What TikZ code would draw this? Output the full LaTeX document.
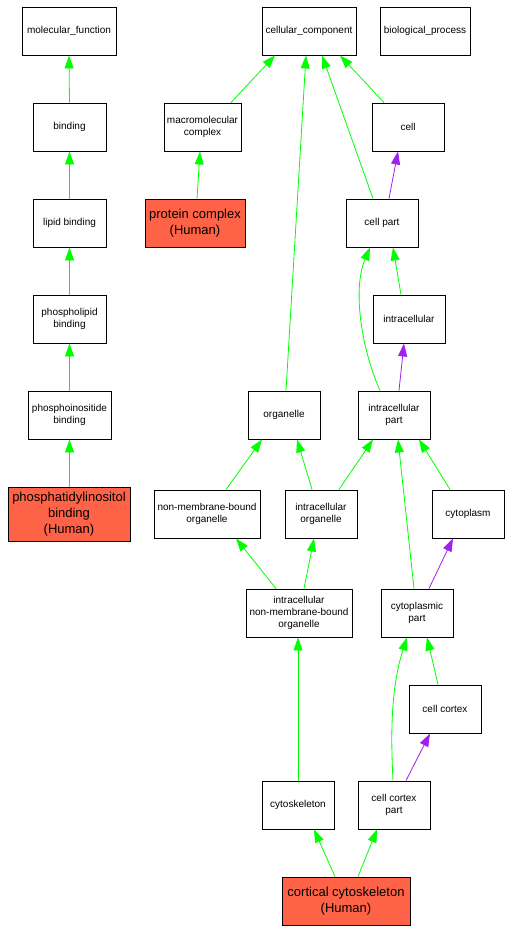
\documentclass[tikz,border=0pt]{standalone}
\usepackage{fontspec}
\setmainfont{Liberation Sans}
\usetikzlibrary{arrows.meta}
\definecolor{gr}{RGB}{0,255,0}
\definecolor{pu}{RGB}{160,32,240}
\definecolor{tom}{RGB}{255,99,71}
\begin{document}
\begin{tikzpicture}[x=1pt,y=-1pt,
  box/.style={draw=black,line width=0.9pt,rectangle,inner sep=0pt,align=center,
    minimum width=72pt,minimum height=48pt,font=\fontsize{10}{12}\selectfont},
  hum/.style={box,fill=tom,font=\fontsize{13}{16}\selectfont},
  ge/.style={draw=gr,line width=0.8pt,-{Triangle[width=9pt,length=13pt]}},
  pe/.style={draw=pu,line width=0.8pt,-{Triangle[width=9pt,length=13pt]}}]
\useasboundingbox (0,0) rectangle (511,932);
\fill[white] (0,0) rectangle (511,932);
% left branch
\node[box,minimum width=94pt] (mf) at (69,31) {molecular\_function};
\node[box,minimum width=73pt] (bind) at (69.5,127) {binding};
\node[box,minimum width=73pt] (lip) at (69.5,223) {lipid binding};
\node[box,minimum width=73pt] (phl) at (69.5,319) {phospholipid\\binding};
\node[box,minimum width=83pt] (phi) at (69.5,415) {phosphoinositide\\binding};
\node[hum,minimum width=122pt,minimum height=54pt] (pti) at (69,514) {phosphatidylinositol\\binding\\(Human)};
% middle/right
\node[box,minimum width=77pt] (mac) at (202.5,127) {macromolecular\\complex};
\node[hum,minimum width=100pt] (pc) at (195,223) {protein complex\\(Human)};
\node[box,minimum width=94pt] (cc) at (309,31) {cellular\_component};
\node[box,minimum width=90pt] (bp) at (425,31) {biological\_process};
\node[box] (cell) at (408,127) {cell};
\node[box] (cp) at (382,223) {cell part};
\node[box] (ic) at (409,319) {intracellular};
\node[box] (org) at (284,415) {organelle};
\node[box] (icp) at (394,415) {intracellular\\part};
\node[box,minimum width=106pt] (nmb) at (207,514) {non-membrane-bound\\organelle};
\node[box] (io) at (321,514) {intracellular\\organelle};
\node[box] (cyt) at (468,514) {cytoplasm};
\node[box,minimum width=106pt] (inmb) at (299,613) {intracellular\\non-membrane-bound\\organelle};
\node[box] (cyp) at (417,613) {cytoplasmic\\part};
\node[box] (cco) at (445,709) {cell cortex};
\node[box] (csk) at (298,805) {cytoskeleton};
\node[box] (ccp) at (394,805) {cell cortex\\part};
\node[hum,minimum width=128pt] (cort) at (346,901) {cortical cytoskeleton\\(Human)};
% edges left
\draw[ge] (bind.north) -- (mf.south);
\draw[ge] (lip.north) -- (bind.north|-bind.south);
\draw[ge] (phl.north) -- (lip.south);
\draw[ge] (phi.north) -- (phl.south);
\draw[ge] (pti.north-|phi.north) -- (phi.south);
% edges middle
\draw[ge] ([xshift=2pt]pc.north) -- ([xshift=-2.5pt]mac.south);
\draw[ge] ([xshift=28.5pt]mac.north) -- ([xshift=-34pt]cc.south);
\draw[ge] ([xshift=-24pt]cell.north) -- ([xshift=31pt]cc.south);
\draw[ge] ([xshift=-9pt]cp.north) -- ([xshift=13pt]cc.south);
\draw[ge] ([xshift=2pt]org.north) -- ([xshift=-3pt]cc.south);
\draw[pe] ([xshift=7pt]cp.north) -- ([xshift=-10pt]cell.south);
\draw[ge] ([xshift=-8pt]ic.north) -- ([xshift=11pt]cp.south);
\draw[ge] ([xshift=-14pt]icp.north) .. controls (362,350) and (352,290) .. ([xshift=-12pt]cp.south);
\draw[pe] ([xshift=5pt]icp.north) -- ([xshift=-5pt]ic.south);
\draw[ge] ([xshift=19pt]nmb.north) -- ([xshift=-22pt]org.south);
\draw[ge] ([xshift=-9pt]io.north) -- ([xshift=13pt]org.south);
\draw[ge] ([xshift=18pt]io.north) -- ([xshift=-21pt]icp.south);
\draw[ge] ([xshift=-3pt]cyp.north) -- ([xshift=4pt]icp.south);
\draw[ge] ([xshift=-18pt]cyt.north) -- ([xshift=25pt]icp.south);
\draw[pe] ([xshift=12pt]cyp.north) -- ([xshift=-15pt]cyt.south);
\draw[ge] ([xshift=-23pt]inmb.north) -- ([xshift=29pt]nmb.south);
\draw[ge] ([xshift=5pt]inmb.north) -- ([xshift=-7pt]io.south);
\draw[ge] (csk.north) -- (inmb.south-|csk.north);
\draw[ge] ([xshift=-7pt]cco.north) -- ([xshift=10pt]cyp.south);
\draw[ge] ([xshift=-1pt]ccp.north) .. controls (391,740) and (390,690) .. ([xshift=-10pt]cyp.south);
\draw[pe] ([xshift=12pt]ccp.north) -- ([xshift=-15pt]cco.south);
\draw[ge] ([xshift=-11pt]cort.north) -- ([xshift=16pt]csk.south);
\draw[ge] ([xshift=12pt]cort.north) -- ([xshift=-17pt]ccp.south);
\end{tikzpicture}
\end{document}
